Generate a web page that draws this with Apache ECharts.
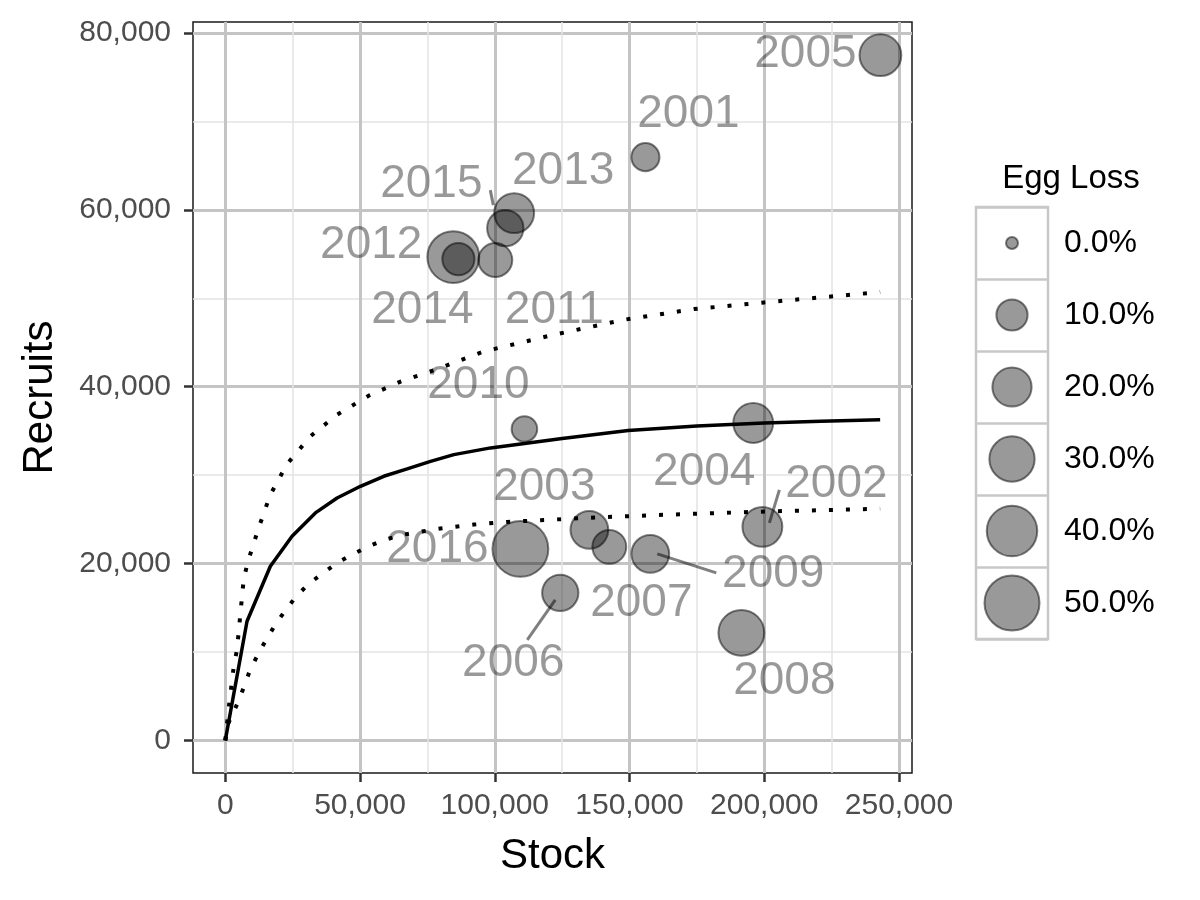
<!DOCTYPE html>
<html>
<head>
<meta charset="utf-8">
<script src="https://cdn.jsdelivr.net/npm/echarts@6/dist/echarts.min.js"></script>
<style>html,body{margin:0;padding:0;background:#fff}#c{width:1200px;height:900px}</style>
</head>
<body>
<div id="c"></div>
<script>
// ---- data ----
const years    = ['2001','2002','2003','2004','2005','2006','2007','2008','2009','2010','2011','2012','2013','2014','2015','2016'];
const stock    = [155900,199300,135100,195900,243100,124300,142500,191500,157700,111000,100200,84600,107200,86500,103900,109500];
const recruits = [65960,24150,23810,35900,77490,16690,21890,12170,21100,35220,54320,54660,59630,54430,57930,21660];
const eggLoss  = [7,21,18,21,24,16,13,31,18,5,13,43,21,11,16,52];

const midStock  = [0,8060,16720,24770,33430,41480,50150,58800,67490,76150,84810,98440,125000,149500,175000,200000,221000,243000];
const midRecr   = [0,13480,19700,23090,25730,27420,28740,29870,30700,31560,32320,33080,34150,35050,35550,35900,36100,36250];
const upStock   = [0,1200,3100,4350,5570,6810,8300,12380,16720,22920,31570,41480,53250,65010,78010,95960,121950,147950,173950,199960,221000,243000];
const upRecr    = [0,3500,8280,10280,14240,18190,20150,24030,27800,31260,34390,36840,38990,40570,41920,43990,45880,47570,48780,49530,50100,50700];
const loStock   = [0,1230,4350,6800,9030,11770,15230,18570,22290,26370,30940,36290,41480,47430,53250,59440,66240,78640,92240,104640,138070,171500,203680,230430,243000];
const loRecr    = [0,2000,4070,5950,7830,9530,11410,13110,14690,16310,17700,18940,20070,21080,21960,22710,23280,23920,24410,24710,25230,25610,25910,26100,26200];

const xTicks = [0,50000,100000,150000,200000,250000];
const yTicks = [0,20000,40000,60000,80000];
const legendValues = [0,10,20,30,40,50];
const legendLabels = ['0.0%','10.0%','20.0%','30.0%','40.0%','50.0%'];

// label placement (relative pixel offsets from each point) and connector segments
const labelOffsets = [[43,-43],[74,-43],[-45,-43],[-49,49],[-75,-1],[-47,70],[32,56],[43,49],[123,20],[-46,-44],[59,50],[-82,-12],[49,-42],[-36,51],[-74,-44],[-83,0]];
const connectorYears   = ['2002','2009','2006','2015'];
const connectorOffsets = [[7,-4,17,-37],[7,0,66,19],[-5,7,-33,47],[-15,-38,-12,-23]];

// ---- helpers ----
const FONT = 'Liberation Sans, Arial, Helvetica, sans-serif';
const sizeOf = v => 12 + 6.08 * Math.sqrt(v);
const fmt = v => Math.round(v).toLocaleString('en-US');
const pair = (xs, ys) => xs.map((x, i) => [x, ys[i]]);
const pointStyle = { color: 'rgba(0,0,0,0.5)', borderColor: 'rgba(0,0,0,0.62)', borderWidth: 2 };
const TEXT_GREY = 'rgba(0,0,0,0.5)';

const pointData = years.map((y, i) => ({
  value: [stock[i], recruits[i], eggLoss[i]],
  name: y,
  label: { offset: labelOffsets[i] }
}));

const connectorData = connectorYears.map((y, k) => {
  const i = years.indexOf(y);
  return [stock[i], recruits[i], k];
});

const chart = echarts.init(document.getElementById('c'), null, { renderer: 'canvas' });
chart.setOption({
  animation: false,
  backgroundColor: '#ffffff',
  textStyle: { fontFamily: FONT },
  title: {
    text: 'Egg Loss', left: 1066, top: 157, textAlign: 'center',
    textStyle: { fontFamily: FONT, fontSize: 33, fontWeight: 'normal', color: '#000' }
  },
  grid: [
    { left: 193, top: 22, width: 719, height: 751, show: true, borderColor: '#1a1a1a', borderWidth: 1.5, backgroundColor: '#fff', containLabel: false },
    { left: 976, top: 207, width: 72, height: 432, show: true, borderColor: '#c8c8c8', borderWidth: 2.5, backgroundColor: '#fff', containLabel: false }
  ],
  xAxis: [
    {
      gridIndex: 0, type: 'value', min: -11986, max: 254820,
      name: 'Stock', nameLocation: 'middle', nameGap: 62,
      nameTextStyle: { fontFamily: FONT, fontSize: 42, color: '#000' },
      axisLine: { show: false, onZero: false },
      axisTick: { show: true, length: 9, customValues: xTicks, lineStyle: { color: '#333', width: 2.5 } },
      axisLabel: { customValues: xTicks, fontFamily: FONT, fontSize: 30, color: '#4d4d4d', margin: 18, formatter: fmt },
      splitLine: { show: true, lineStyle: { color: '#c4c4c4', width: 3 } },
      minorTick: { show: false, splitNumber: 2 },
      minorSplitLine: { show: true, lineStyle: { color: '#e3e3e3', width: 1.5 } }
    },
    { gridIndex: 1, type: 'value', min: 0, max: 1, show: false }
  ],
  yAxis: [
    {
      gridIndex: 0, type: 'value', min: -3684, max: 81243,
      name: 'Recruits', nameLocation: 'middle', nameGap: 132, nameRotate: 90,
      nameTextStyle: { fontFamily: FONT, fontSize: 42, color: '#000' },
      axisLine: { show: false, onZero: false },
      axisTick: { show: true, length: 9, customValues: yTicks, lineStyle: { color: '#333', width: 2.5 } },
      axisLabel: { customValues: yTicks, fontFamily: FONT, fontSize: 30, color: '#4d4d4d', margin: 22, formatter: fmt },
      splitLine: { show: true, lineStyle: { color: '#c4c4c4', width: 3 } },
      minorTick: { show: false, splitNumber: 2 },
      minorSplitLine: { show: true, lineStyle: { color: '#e3e3e3', width: 1.5 } }
    },
    {
      gridIndex: 1, type: 'category', data: legendLabels, inverse: true, position: 'right',
      axisLine: { show: false, onZero: false }, axisTick: { show: false },
      axisLabel: { fontFamily: FONT, fontSize: 32, color: '#000', margin: 16 },
      splitLine: { show: true, lineStyle: { color: '#c8c8c8', width: 2.5 } }
    }
  ],
  series: [
    {
      type: 'line', xAxisIndex: 0, yAxisIndex: 0, data: pair(midStock, midRecr),
      showSymbol: false, symbol: 'none', lineStyle: { color: '#000', width: 3.5 }, z: 3
    },
    {
      type: 'line', xAxisIndex: 0, yAxisIndex: 0, data: pair(upStock, upRecr),
      showSymbol: false, symbol: 'none', lineStyle: { color: '#000', width: 4, type: [4, 13], cap: 'butt' }, z: 3
    },
    {
      type: 'line', xAxisIndex: 0, yAxisIndex: 0, data: pair(loStock, loRecr),
      showSymbol: false, symbol: 'none', lineStyle: { color: '#000', width: 4, type: [4, 13], cap: 'butt' }, z: 3
    },
    {
      type: 'scatter', xAxisIndex: 0, yAxisIndex: 0, data: pointData, z: 4,
      symbol: 'circle', symbolSize: v => sizeOf(v[2]),
      itemStyle: pointStyle,
      label: {
        show: true, position: 'inside', formatter: p => p.name,
        fontFamily: FONT, fontSize: 46, color: TEXT_GREY
      },
      emphasis: { disabled: true }
    },
    {
      type: 'custom', xAxisIndex: 0, yAxisIndex: 0, z: 5, data: connectorData,
      renderItem: (params, api) => {
        const c = api.coord([api.value(0), api.value(1)]);
        const o = connectorOffsets[api.value(2)];
        return {
          type: 'line',
          shape: { x1: c[0] + o[0], y1: c[1] + o[1], x2: c[0] + o[2], y2: c[1] + o[3] },
          style: { stroke: TEXT_GREY, lineWidth: 3 }
        };
      }
    },
    {
      type: 'scatter', xAxisIndex: 1, yAxisIndex: 1, z: 4,
      data: legendLabels.map((l, i) => [0.5, l]),
      symbol: 'circle', symbolSize: (v, p) => sizeOf(legendValues[p.dataIndex]),
      itemStyle: pointStyle, emphasis: { disabled: true }
    }
  ]
});
</script>
</body>
</html>
